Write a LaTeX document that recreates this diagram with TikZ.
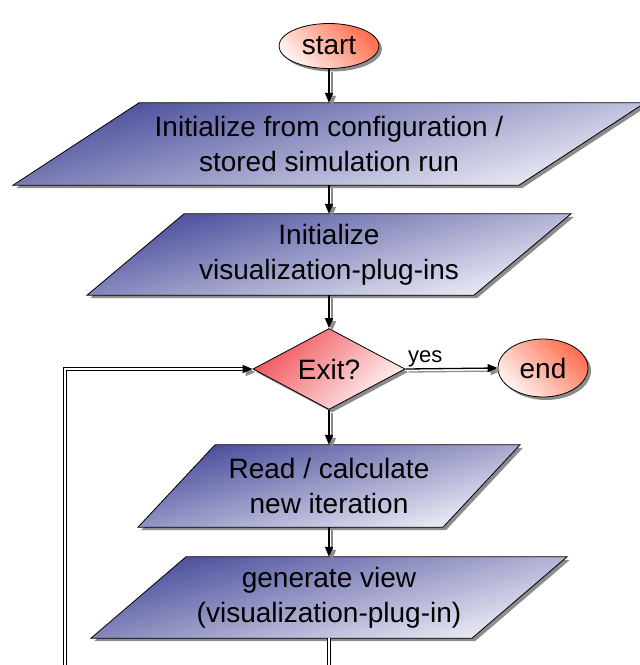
\documentclass[tikz,border=0pt]{standalone}
\usepackage{fontspec}
\setmainfont{Liberation Sans}
\usetikzlibrary{arrows.meta,shapes.geometric,shadows,backgrounds,calc}

\definecolor{slabdark}{RGB}{72,76,154}
\definecolor{slablight}{RGB}{240,240,248}
\definecolor{termhot}{RGB}{255,110,78}
\definecolor{termpale}{RGB}{255,244,242}
\definecolor{testhot}{RGB}{240,84,90}
\definecolor{testpale}{RGB}{255,246,246}
\definecolor{shade}{RGB}{140,140,140}

\tikzset{
  base/.style={font=\fontsize{28}{35}\selectfont, align=center, inner sep=0pt},
  shadowed/.style={drop shadow={shadow xshift=3pt, shadow yshift=-3pt, fill=shade, opacity=1}},
  term/.style={base, ellipse, draw=black, line width=0.8pt, shadowed,
    top color=termpale, bottom color=termhot, shading angle=135},
  test/.style={base, diamond, aspect=2, draw=black, line width=0.8pt, shadowed,
    top color=testhot, bottom color=testpale, shading angle=45,
    minimum width=152pt, minimum height=81pt},
  iotext/.style={base},
  slabfill/.style={draw=black, line width=0.8pt, shadowed,
    top color=slabdark, bottom color=slablight, shading angle=15},
  link/.style={line width=1.3pt, -{Triangle[length=10pt,width=8pt]}},
  looplink/.style={line width=1.6pt, double=white, double distance=1.5pt},
}

% parallelogram behind a text node: node name, half width, half slant
\newcommand\slab[3]{%
  \path[slabfill] ($(#1.north)+(-#2+#3,0)$) -- ($(#1.north)+(#2+#3,0)$)
    -- ($(#1.south)+(#2-#3,0)$) -- ($(#1.south)+(-#2-#3,0)$) -- cycle;}

% all straight flow arrows, drawn with the given options
\newcommand\flowlinks[1]{%
  \draw[link,#1] (start.south) -- (cfg.north);
  \draw[link,#1] (cfg.south) -- (plug.north);
  \draw[link,#1] (plug.south) -- (exit.north);
  \draw[link,#1] (exit.east) -- (end.west);
  \draw[link,#1] (exit.south) -- (iter.north);
  \draw[link,#1] (iter.south) -- (view.north);
  \draw[link,#1] ($(exit.west)+(-10,0)$) -- (exit.west);}

\begin{document}
\begin{tikzpicture}[x=1pt, y=-1pt]
  \useasboundingbox (0,0) rectangle (640,665);
  \clip (0,0) rectangle (640,665);

  \node[term, minimum width=100pt, minimum height=45pt] (start) at (329,46) {start};
  \node[iotext, minimum height=82pt] (cfg) at (329,144)
    {Initialize from configuration /\\ stored simulation run};
  \node[iotext, minimum height=81pt] (plug) at (329,254.5)
    {Initialize\\ visualization-plug-ins};
  \node[test] (exit) at (329,369) {Exit?};
  \node[term, minimum width=90pt, minimum height=58pt] (end) at (543,368) {end};
  \node[iotext, minimum height=82pt] (iter) at (329,486)
    {Read / calculate\\ new iteration};
  \node[iotext, minimum height=81pt] (view) at (329,597.5)
    {generate view\\ (visualization-plug-in)};
  \node[font=\fontsize{22}{26}\selectfont, anchor=base west, inner sep=0pt] (yes)
    at (408,362) {yes};

  \begin{pgfonlayer}{background}
    \slab{cfg}{253}{63}
    \slab{plug}{193.5}{48.5}
    \slab{iter}{152.5}{38.5}
    \slab{view}{190.5}{47.5}
  \end{pgfonlayer}

  % loop back from the last step to the test
  \coordinate (loopfoot) at (329,700);
  \coordinate (loopturn) at (65,700);
  \draw[looplink] (view.south) -- (loopfoot) -- (loopturn)
    |- ($(exit.west)+(-9,0)$);

  \begin{scope}[transform canvas={shift={(3pt,-3pt)}}]
    \flowlinks{color=shade}
  \end{scope}
  \flowlinks{color=black}
\end{tikzpicture}
\end{document}
